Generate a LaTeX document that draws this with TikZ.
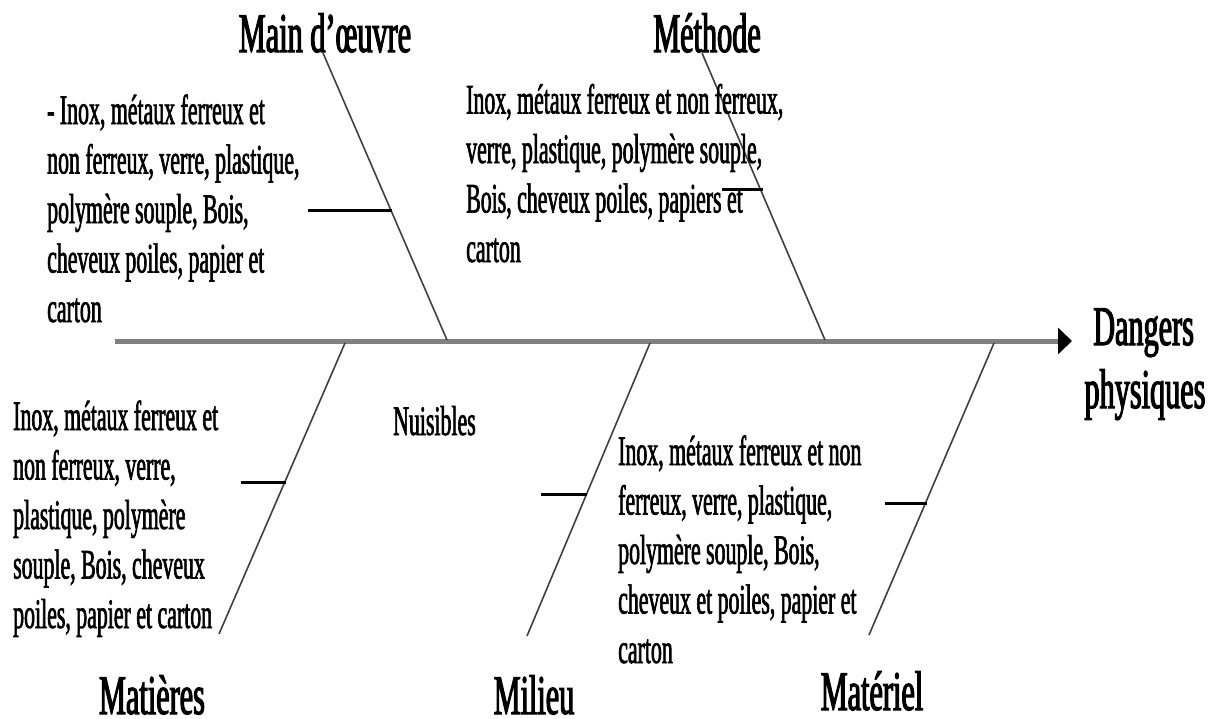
\documentclass[tikz,border=0pt]{standalone}
\usepackage{fontspec}
\setmainfont{Liberation Serif}[FakeStretch=0.52,FakeBold=1.5]
\newfontfamily\headfont{Liberation Serif}[FakeStretch=0.54,FakeBold=2,Ligatures=TeX]
\usetikzlibrary{arrows.meta}
\begin{document}
\begin{tikzpicture}[x=1pt,y=-1pt,
  spine/.style={draw=black!50, line width=5pt, -{Triangle[length=14pt,width=26pt,color=black]}},
  bone/.style={draw=black!75, line width=1.6pt},
  twig/.style={draw=black, line width=3pt},
  cause/.style={font=\headfont\fontsize{56}{60}\selectfont, inner sep=0pt, anchor=base},
  notes/.style={font=\fontsize{42}{49.5}\selectfont, inner sep=0pt, anchor=base west, align=left}]
\useasboundingbox (0,0) rectangle (1215,718);

% spine
\coordinate (tail) at (115,341);
\coordinate (head) at (1072,341);
\draw[spine] (tail) -- (head);
\node[cause, anchor=base west] (effect) at (1093,345) {Dangers};
\node[cause] (effect2) at (1145,408) {physiques};

% upper causes
\node[cause] (mo) at (325,52) {Main d’œuvre};
\node[cause] (me) at (707,52) {Méthode};
\coordinate (moTop) at (323,53);
\coordinate (moFoot) at (447,340);
\coordinate (meTop) at (702,53);
\coordinate (meFoot) at (825,340);
\draw[bone] (moTop) -- (moFoot);
\draw[bone] (meTop) -- (meFoot);

% lower causes (the words sit on the lower edge)
\node[cause] (ma) at (152,714) {Matières};
\node[cause] (mi) at (534,714) {Milieu};
\node[cause] (mt) at (872,710) {Matériel};
\coordinate (maTop) at (345,343);
\coordinate (maEnd) at (219,634);
\coordinate (miTop) at (650,343);
\coordinate (miEnd) at (527,636);
\coordinate (mtTop) at (994,343);
\coordinate (mtEnd) at (869,635);
\draw[bone] (maTop) -- (maEnd);
\draw[bone] (miTop) -- (miEnd);
\draw[bone] (mtTop) -- (mtEnd);

% sub-causes
\coordinate (moA) at (308,210);  \coordinate (moB) at (392,210);
\coordinate (meA) at (722,189);  \coordinate (meB) at (763,189);
\coordinate (maA) at (241,482);  \coordinate (maB) at (286,482);
\coordinate (miA) at (541,494);  \coordinate (miB) at (587,494);
\coordinate (mtA) at (885,503);  \coordinate (mtB) at (927,503);
\draw[twig] (moA) -- (moB);
\draw[twig] (meA) -- (meB);
\draw[twig] (maA) -- (maB);
\draw[twig] (miA) -- (miB);
\draw[twig] (mtA) -- (mtB);

% descriptions (placed by the baseline of their last line)
\node[notes] (tmo) at (47,322) {- Inox, métaux ferreux et\\non ferreux, verre, plastique,\\polymère souple, Bois,\\cheveux poiles, papier et\\carton};
\node[notes] (tme) at (466,262) {Inox, métaux ferreux et non ferreux,\\verre, plastique, polymère souple,\\Bois, cheveux poiles, papiers et\\carton};
\node[notes] (tma) at (13,628) {Inox, métaux ferreux et\\non ferreux, verre,\\plastique, polymère\\souple, Bois, cheveux\\poiles, papier et carton};
\node[notes] (tnu) at (393,435) {Nuisibles};
\node[notes] (tmt) at (618,663) {Inox, métaux ferreux et non\\ferreux, verre, plastique,\\polymère souple, Bois,\\cheveux et poiles, papier et\\carton};
\end{tikzpicture}
\end{document}
